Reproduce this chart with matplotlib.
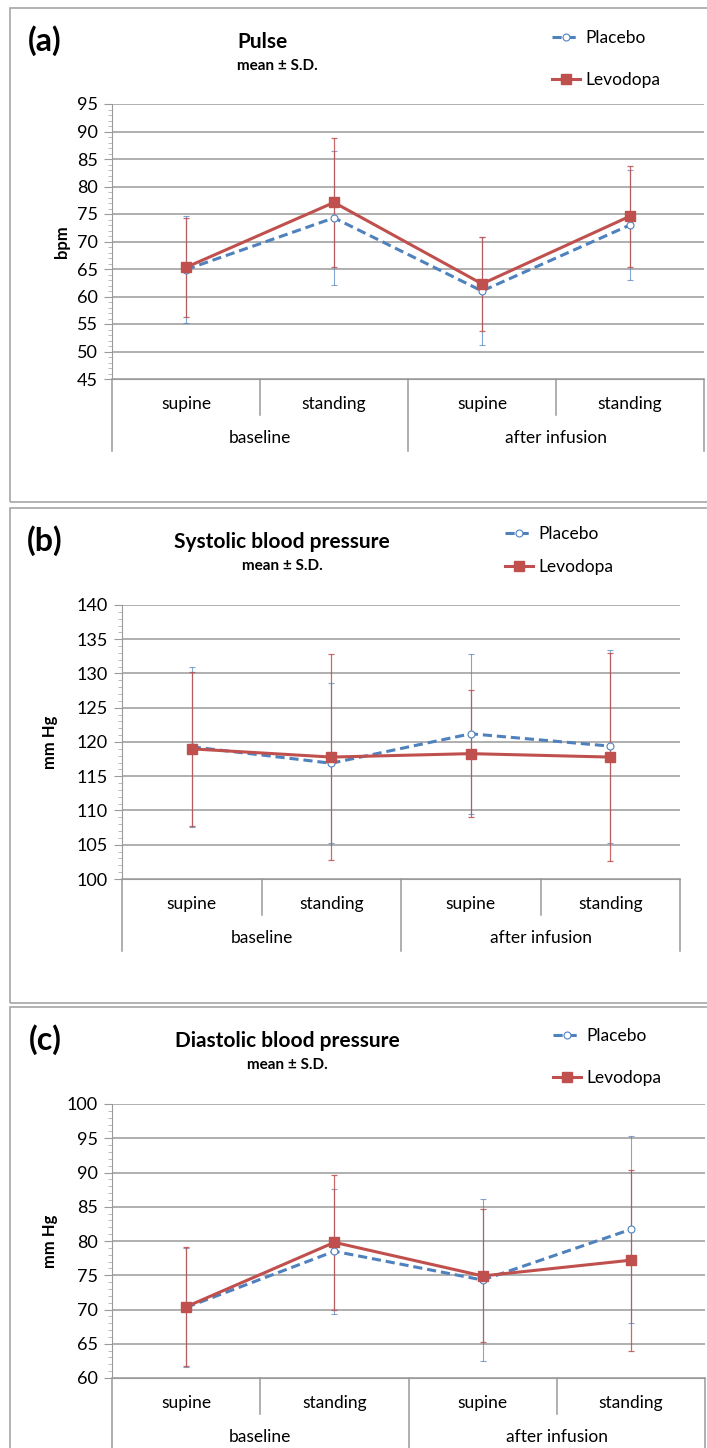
import matplotlib.pyplot as plt
from matplotlib.patches import Rectangle
from matplotlib.ticker import MultipleLocator

plt.rcParams['font.family'] = ['Lato', 'DejaVu Sans']

# categories
positions = ["supine", "standing", "supine", "standing"]
phases = ["baseline", "after infusion"]
series_names = ["Placebo", "Levodopa"]

# (a) pulse, bpm
pulse_placebo = [64.9, 74.3, 61.0, 73.0]
pulse_placebo_sd = [9.7, 12.2, 9.8, 10.0]
pulse_levodopa = [65.3, 77.1, 62.3, 74.6]
pulse_levodopa_sd = [9.0, 11.7, 8.5, 9.2]

# (b) systolic, mm Hg
sbp_placebo = [119.3, 116.9, 121.2, 119.4]
sbp_placebo_sd = [11.7, 11.7, 11.7, 14.1]
sbp_levodopa = [119.0, 117.8, 118.3, 117.8]
sbp_levodopa_sd = [11.2, 15.0, 9.3, 15.2]

# (c) diastolic, mm Hg
dbp_placebo = [70.3, 78.5, 74.3, 81.7]
dbp_placebo_sd = [8.7, 9.1, 11.8, 13.6]
dbp_levodopa = [70.4, 79.8, 74.9, 77.2]
dbp_levodopa_sd = [8.7, 9.9, 9.7, 13.2]

W, H = 707, 1448
BLUE = "#4F81BD"
RED = "#C0504D"
GRID = "#9a9a9a"

fig = plt.figure(figsize=(W / 100, H / 100), dpi=100)


def px(x, y):
    return x / W, 1 - y / H


def draw_panel(frame, plot, ylim, letter, title, title_x, title_ha, ylabel, ylabel_x,
               legend_xy, legend_gap, placebo, placebo_sd, levodopa, levodopa_sd):
    # panel frame
    fl, ft, fr, fb = frame
    fig.patches.append(Rectangle(px(fl, fb), (fr - fl) / W, (fb - ft) / H,
                                 transform=fig.transFigure, fill=False,
                                 edgecolor="#a6a6a6", lw=1.2))
    l, t, r, b = plot
    ax = fig.add_axes([l / W, 1 - b / H, (r - l) / W, (b - t) / H])
    x = range(len(positions))
    ax.errorbar(x, placebo, yerr=placebo_sd, fmt="none", ecolor=BLUE, elinewidth=0.8,
                capsize=2.5, capthick=0.8, alpha=0.7, zorder=3)
    ax.errorbar(x, levodopa, yerr=levodopa_sd, fmt="none", ecolor=RED, elinewidth=0.9,
                capsize=2.5, capthick=0.9, alpha=0.85, zorder=3)
    ax.plot(x, placebo, color=BLUE, ls=(0, (3, 1.6)), lw=2.2, marker="o", ms=5,
            mfc="white", mec=BLUE, mew=0.8, label=series_names[0], zorder=4)
    ax.plot(x, levodopa, color=RED, lw=2.2, marker="s", ms=7, label=series_names[1],
            zorder=5)
    ax.set_xlim(-0.5, len(positions) - 0.5)
    ax.set_ylim(*ylim)
    ax.yaxis.set_major_locator(MultipleLocator(5))
    ax.yaxis.set_minor_locator(MultipleLocator(1))
    ax.grid(axis="y", color=GRID, lw=1.1)
    ax.set_axisbelow(True)
    ax.set_xticks([])
    for s in ["top", "right"]:
        ax.spines[s].set_visible(False)
    ax.spines["left"].set_color(GRID)
    ax.spines["bottom"].set_color(GRID)
    ax.tick_params(axis="y", which="major", length=6, color=GRID, labelsize=13, pad=4)
    ax.tick_params(axis="y", which="minor", length=3, color="#b0b0b0")

    # category axis below the plot
    hpx = b - t
    tr = ax.get_xaxis_transform()
    lvl1 = -36 / hpx
    lvl2 = -72 / hpx
    for i, xe in enumerate([-0.5, 0.5, 1.5, 2.5, 3.5]):
        bottom = lvl2 if i % 2 == 0 else lvl1
        ax.plot([xe, xe], [0, bottom], color=GRID, lw=1.1, transform=tr, clip_on=False)
    for i, name in enumerate(positions):
        ax.text(i, -25 / hpx, name, transform=tr, ha="center", va="center", fontsize=12.5)
    for j, name in enumerate(phases):
        ax.text(2 * j + 0.5, -59 / hpx, name, transform=tr, ha="center", va="center",
                fontsize=12.5)

    # texts
    fig.text(*px(45, ft + 33), letter, ha="center", va="center", fontsize=23,
             fontweight="bold")
    fig.text(*px(title_x, ft + 34), title, ha=title_ha, va="center", fontsize=15,
             fontweight="bold")
    fig.text(*px(title_x, ft + 58), "mean \u00b1 S.D.", ha=title_ha, va="center",
             fontsize=11, fontweight="bold")
    fig.text(*px(ylabel_x, (t + b) / 2), ylabel, ha="center", va="center", rotation=90,
             fontsize=12, fontweight="bold")
    fig.legend(*ax.get_legend_handles_labels(), loc="upper left",
               bbox_to_anchor=px(*legend_xy), frameon=False, fontsize=12.5,
               handlelength=1.6, handletextpad=0.3, labelspacing=legend_gap,
               borderpad=0, borderaxespad=0, numpoints=1)
    return ax


draw_panel((10, 8, 715, 502), (112, 104, 704, 379), (45, 95), "(a)", "Pulse", 237, "left",
           "bpm", 62, (552, 30), 1.5,
           pulse_placebo, pulse_placebo_sd, pulse_levodopa, pulse_levodopa_sd)
draw_panel((10, 508, 715, 1003), (122, 605, 680, 879), (100, 140), "(b)",
           "Systolic blood pressure", 282, "center", "mm Hg", 50, (505, 526), 1.0,
           sbp_placebo, sbp_placebo_sd, sbp_levodopa, sbp_levodopa_sd)
draw_panel((10, 1007, 715, 1470), (112, 1104, 705, 1378), (60, 100), "(c)",
           "Diastolic blood pressure", 287, "center", "mm Hg", 50, (553, 1028), 1.5,
           dbp_placebo, dbp_placebo_sd, dbp_levodopa, dbp_levodopa_sd)

fig.savefig("out.png", dpi=100)
